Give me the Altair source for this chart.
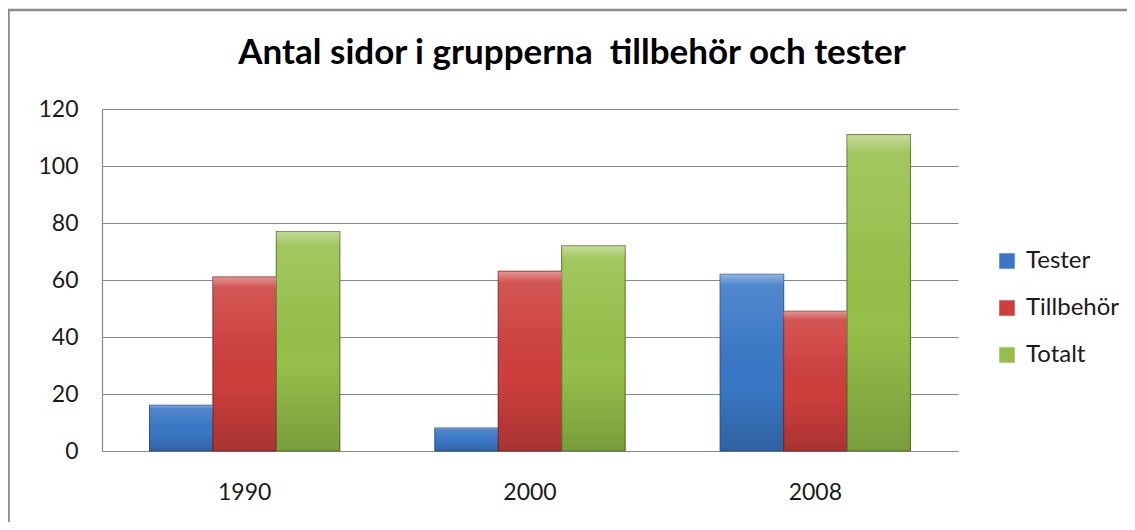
import altair as alt
import pandas as pd

# ---- data ----
years = ["1990", "2000", "2008"]
series = ["Tester", "Tillbehör", "Totalt"]
tester = [16, 8, 62]
tillbehor = [61, 63, 49]
totalt = [77, 72, 111]
y_ticks = [0, 20, 40, 60, 80, 100, 120]

title_text = "Antal sidor i grupperna\u00a0 tillbehör och tester"

fill_colors = ["#3A78C6", "#CD3F3D", "#95BF4A"]
stroke_colors = ["#2B5A96", "#8C2B29", "#627F2F"]

rows = []
for i, yr in enumerate(years):
    for s, vals in zip(series, [tester, tillbehor, totalt]):
        rows.append({"year": yr, "series": s, "value": vals[i]})
df = pd.DataFrame(rows)

FONT = "Lato"
GRAY = "#888888"

x_enc = alt.X(
    "year:N",
    sort=years,
    scale=alt.Scale(paddingInner=0.3333, paddingOuter=0.1667),
    axis=alt.Axis(
        title=None, labelAngle=0, ticks=False, labelPadding=30,
        labelFontSize=23, labelFont=FONT, labelColor="#1a1a1a",
        domainColor=GRAY, domainWidth=1.2, grid=False,
    ),
)
xoff_enc = alt.XOffset(
    "series:N", sort=series, scale=alt.Scale(paddingInner=0, paddingOuter=0)
)
y_enc = alt.Y(
    "value:Q",
    scale=alt.Scale(domain=[0, 120], nice=False),
    axis=alt.Axis(
        title=None, values=y_ticks, ticks=False, labelPadding=24,
        labelFontSize=23, labelFont=FONT, labelColor="#1a1a1a",
        domainColor=GRAY, domainWidth=1.2, gridColor=GRAY, gridWidth=1.2,
    ),
)

base = alt.Chart(df)

bars = base.mark_bar(strokeWidth=1.2).encode(
    x=x_enc,
    xOffset=xoff_enc,
    y=y_enc,
    color=alt.Color(
        "series:N",
        sort=series,
        scale=alt.Scale(domain=series, range=fill_colors),
        legend=alt.Legend(
            title=None, orient="none", legendX=893, legendY=140,
            symbolType="square", symbolSize=240, symbolStrokeWidth=0,
            labelFontSize=24, labelFont=FONT, labelColor="#1a1a1a",
            labelOffset=7, rowPadding=23, padding=0,
        ),
    ),
    stroke=alt.Stroke(
        "series:N",
        sort=series,
        scale=alt.Scale(domain=series, range=stroke_colors),
        legend=None,
    ),
)

shade = base.mark_bar(
    color=alt.Gradient(
        gradient="linear",
        x1=0, x2=0, y1=0, y2=1,
        stops=[
            alt.GradientStop(color="rgba(255,255,255,0.45)", offset=0),
            alt.GradientStop(color="rgba(255,255,255,0.12)", offset=0.06),
            alt.GradientStop(color="rgba(255,255,255,0.05)", offset=0.3),
            alt.GradientStop(color="rgba(0,0,0,0.0)", offset=0.6),
            alt.GradientStop(color="rgba(0,0,0,0.18)", offset=1),
        ],
    )
).encode(x=x_enc, xOffset=xoff_enc, y=y_enc)

one = pd.DataFrame({"a": [0]})

border = alt.Chart(one).mark_rect(
    fillOpacity=0, stroke="#8a8a8a", strokeWidth=2.5
).encode(
    x=alt.value(-93.5), x2=alt.value(1200),
    y=alt.value(-99), y2=alt.value(700),
)

title = alt.Chart(one).mark_text(
    text=title_text, font=FONT, fontSize=35, fontWeight="bold",
    color="#000000", align="center", baseline="alphabetic",
).encode(x=alt.value(470), y=alt.value(-45))

chart = (
    alt.layer(border, bars, shade, title)
    .properties(
        width=856,
        height=342,
        autosize=alt.AutoSizeParams(type="none"),
        padding={"left": 94, "top": 101, "right": 169, "bottom": 71},
    )
    .configure_view(strokeWidth=0)
)

chart.save("out.html", embed_options={"renderer": "svg", "actions": False})
